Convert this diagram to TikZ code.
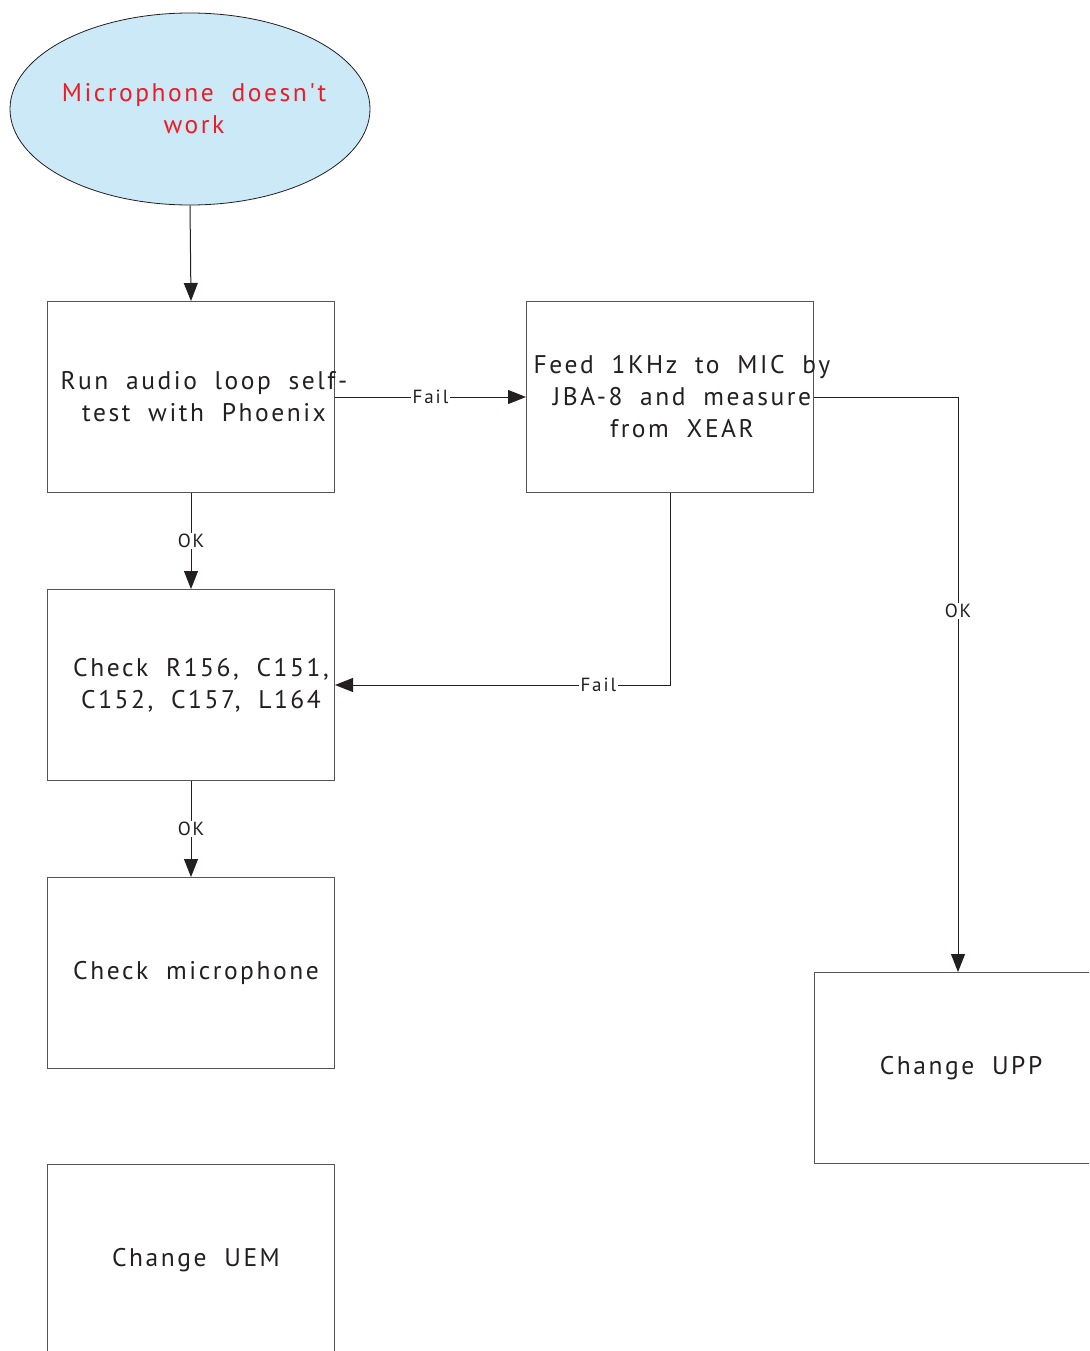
\documentclass[tikz,border=0pt]{standalone}
\usepackage{fontspec}
\setmainfont{PT Sans}[LetterSpace=10,WordSpace=1.9,Ligatures=TeXOff]
\usetikzlibrary{arrows.meta,shapes.geometric}
\definecolor{ink}{HTML}{231F20}
\definecolor{fillblue}{HTML}{CCE9F8}
\definecolor{redtxt}{HTML}{ED1C24}
\definecolor{edgegray}{HTML}{555555}
\begin{document}
\begin{tikzpicture}[x=1pt,y=-1pt,
  box/.style={rectangle,draw=edgegray,line width=1pt,minimum width=287pt,minimum height=191pt,inner sep=0pt,anchor=north west},
  txt/.style={font=\fontsize{25.5}{32}\selectfont,text=ink,align=center,inner sep=0pt},
  lbl/.style={font=\fontsize{19}{22}\selectfont,text=ink,fill=white,inner sep=1.5pt},
  conn/.style={draw=ink,line width=1pt,-{Triangle[width=14pt,length=18pt]}}]
\useasboundingbox (0,0) rectangle (1089,1351);
\clip (0,0) rectangle (1089,1351);
\node[ellipse,draw=ink,fill=fillblue,line width=0.8pt,minimum width=360pt,minimum height=192pt,inner sep=0pt] (start) at (190,109) {};
\node[txt,text=redtxt] (tstart) at ([xshift=4pt]start.center) {Microphone doesn't\\work};
\node[box] (b1) at (47,301) {};
\node[box] (b2) at (526,301) {};
\node[box] (b3) at (47,589) {};
\node[box] (b4) at (47,877) {};
\node[box] (b5) at (47,1164) {};
\node[box] (b6) at (814,972) {};
\node[txt] (t1) at ([xshift=13pt]b1.center) {Run audio loop self-\\test with Phoenix};
\node[txt] (t2) at ([xshift=12pt]b2.center) {Feed 1KHz to MIC by\\JBA-8 and measure\\from XEAR};
\node[txt] (t3) at ([xshift=10pt]b3.center) {Check R156, C151,\\C152, C157, L164};
\node[txt] (t4) at ([xshift=5pt]b4.center) {Check microphone};
\node[txt] (t5) at ([xshift=5pt]b5.center) {Change UEM};
\node[txt] (t6) at ([xshift=3pt]b6.center) {Change UPP};
\draw[conn] (start.south) -- (b1.north);
\draw[conn] (b1.east) -- node[lbl]{Fail} (b2.west);
\draw[conn] (b1.south) -- node[lbl]{OK} (b3.north);
\draw[conn] (b2.south) |- node[lbl,pos=0.607]{Fail} (b3.east);
\draw[conn] (b2.east) -| node[lbl,pos=0.686]{OK} (b6.north);
\draw[conn] (b3.south) -- node[lbl]{OK} (b4.north);
\end{tikzpicture}
\end{document}
